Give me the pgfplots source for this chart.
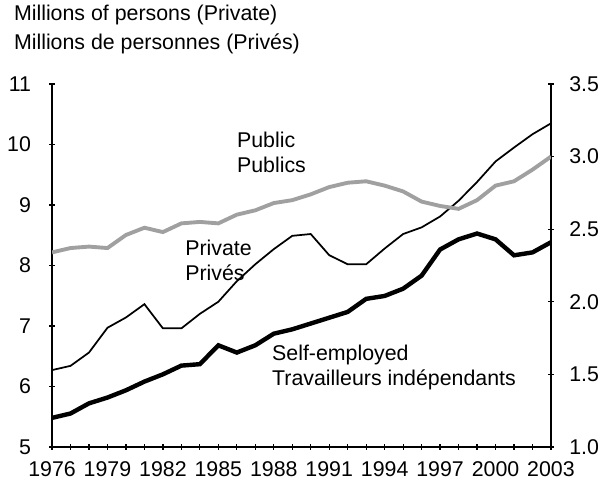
\documentclass[border=0pt]{standalone}
\usepackage{pgfplots}
\pgfplotsset{compat=1.18}
\usepackage{fontspec}
\setmainfont{Liberation Sans}
\definecolor{pubgray}{RGB}{160,160,160}

\begin{document}
\fontsize{16}{18.5}\selectfont
\begin{tikzpicture}
\pgfplotsset{
  every axis/.append style={
    scale only axis, width=374pt, height=272pt,
    xmin=1976, xmax=2003,
    tick style={black, line width=0.9pt},
    major tick length=4.5pt, minor tick length=4.5pt,
    tick align=inside,
    axis line style={line width=1.1pt},
    /pgf/number format/assume math mode=true,
    tick label style={font=\fontsize{16}{18.5}\selectfont},
  },
}
% left axis: private
\begin{axis}[
  name=main,
  axis x line=bottom, axis y line=left,
  axis line style={-},
  ymin=5, ymax=11, ytick={5,...,11},
  xtick={1976,1979,...,2003},
  minor xtick={1976,...,2003},
  xticklabel style={/pgf/number format/1000 sep={}},
  yticklabel style={xshift=-8pt},
  xticklabel style={yshift=-3pt},
]
\addplot[black, line width=1.3pt] coordinates {
 (1976,6.27) (1977,6.34) (1978,6.56) (1979,6.97) (1980,7.14) (1981,7.36)
 (1982,6.96) (1983,6.96) (1984,7.20) (1985,7.40) (1986,7.74) (1987,8.02)
 (1988,8.27) (1989,8.49) (1990,8.52) (1991,8.17) (1992,8.02) (1993,8.02)
 (1994,8.28) (1995,8.52) (1996,8.63) (1997,8.81) (1998,9.07) (1999,9.38)
 (2000,9.72) (2001,9.95) (2002,10.17) (2003,10.35)
};
\node[anchor=west, align=left, inner xsep=0pt] at (axis cs:1986.0,9.87) {Public\\Publics};
\node[anchor=west, align=left, inner xsep=0pt] at (axis cs:1983.2,8.08) {Private\\Privés};
\node[anchor=west, align=left, inner xsep=0pt] at (axis cs:1987.9,6.31) {Self-employed\\Travailleurs indépendants};
\end{axis}
% right axis: public and self-employed
\begin{axis}[
  axis x line=none, axis y line=right,
  axis line style={-},
  ymin=1, ymax=3.5, ytick={1,1.5,...,3.5},
  yticklabel style={xshift=6pt},
  y tick label style={/pgf/number format/fixed, /pgf/number format/fixed zerofill, /pgf/number format/precision=1},
]
\addplot[pubgray, line width=2.9pt] coordinates {
 (1976,2.34) (1977,2.37) (1978,2.38) (1979,2.37) (1980,2.46) (1981,2.51)
 (1982,2.48) (1983,2.54) (1984,2.55) (1985,2.54) (1986,2.60) (1987,2.63)
 (1988,2.68) (1989,2.70) (1990,2.74) (1991,2.79) (1992,2.82) (1993,2.83)
 (1994,2.80) (1995,2.76) (1996,2.69) (1997,2.66) (1998,2.64) (1999,2.70)
 (2000,2.80) (2001,2.83) (2002,2.91) (2003,3.00)
};
\addplot[black, line width=3.3pt] coordinates {
 (1976,1.20) (1977,1.23) (1978,1.30) (1979,1.34) (1980,1.39) (1981,1.45)
 (1982,1.50) (1983,1.56) (1984,1.57) (1985,1.70) (1986,1.65) (1987,1.70)
 (1988,1.78) (1989,1.81) (1990,1.85) (1991,1.89) (1992,1.93) (1993,2.02)
 (1994,2.04) (1995,2.09) (1996,2.18) (1997,2.36) (1998,2.43) (1999,2.47)
 (2000,2.43) (2001,2.32) (2002,2.34) (2003,2.41)
};
\end{axis}
\node[anchor=south west, align=left, inner sep=0pt,
      font=\fontsize{16}{21.75}\selectfont]
  at ([xshift=-28.7pt,yshift=22pt]main.north west)
  {Millions of persons (Private)\\Millions de personnes (Privés)};
\pgfresetboundingbox
\path ([xshift=-39pt,yshift=-29.25pt]main.south west)
  rectangle ([xshift=44.25pt,yshift=63pt]main.north east);
\end{tikzpicture}
\end{document}
